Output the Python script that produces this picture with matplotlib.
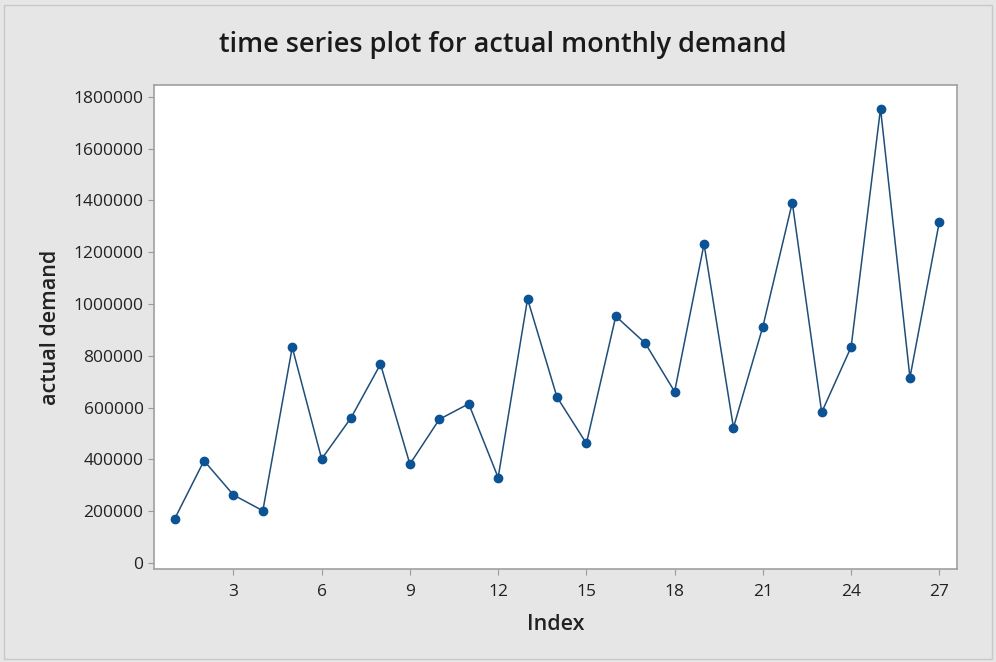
import numpy as np
import matplotlib
matplotlib.use("Agg")
import matplotlib.pyplot as plt
from matplotlib.patches import Rectangle

# monthly demand
index = list(range(1, 28))
demand = [170000, 395000, 263000, 202000, 833000, 402000, 561000, 768000, 382000,
          555000, 615000, 330000, 1020000, 641000, 462000, 953000, 849000, 662000,
          1232000, 523000, 913000, 1392000, 582000, 834000, 1755000, 716000, 1318000]

y_ticks = list(range(0, 1800001, 200000))
x_ticks = list(range(3, 28, 3))

plt.rcParams['font.family'] = ['Open Sans', 'DejaVu Sans']

bg = '#e6e6e6'
fig = plt.figure(figsize=(9.96, 6.62), dpi=100, facecolor=bg)
# thin outer frame like the Minitab window
fig.patches.append(Rectangle((0.004, 0.004), 0.992, 0.988, transform=fig.transFigure,
                             fill=False, edgecolor='#c8c8c8', linewidth=1))

ax = fig.add_axes([154 / 996, 1 - 569 / 662, (957 - 154) / 996, (569 - 85) / 662])
ax.set_facecolor('white')

ax.plot(index, demand, color='#1f4e79', linewidth=1.1, marker='o',
        markersize=6, markerfacecolor='#0b5394', markeredgecolor='#0b5394')

ax.set_xlim(0.3, 27.6)
ax.set_ylim(-23000, 1846000)
ax.set_xticks(x_ticks)
ax.set_yticks(y_ticks)
ax.set_yticklabels([str(v) for v in y_ticks])
ax.tick_params(axis='both', colors='#9a9a9a', labelcolor='#222222', labelsize=12.5,
               length=4, width=0.8)
ax.tick_params(axis='x', pad=7)

for s in ax.spines.values():
    s.set_color('#a0a0a0')
    s.set_linewidth(1.2)

ax.set_xlabel('Index', fontsize=15.5, fontweight='semibold', color='#222222', labelpad=10)
ax.set_ylabel('actual demand', fontsize=15.5, fontweight='semibold', color='#222222', labelpad=9)
fig.text(0.505, 0.932, 'time series plot for actual monthly demand', ha='center', va='center',
         fontsize=19.5, fontweight='semibold', color='#1a1a1a')

fig.savefig('out.png', dpi=100, facecolor=bg)
